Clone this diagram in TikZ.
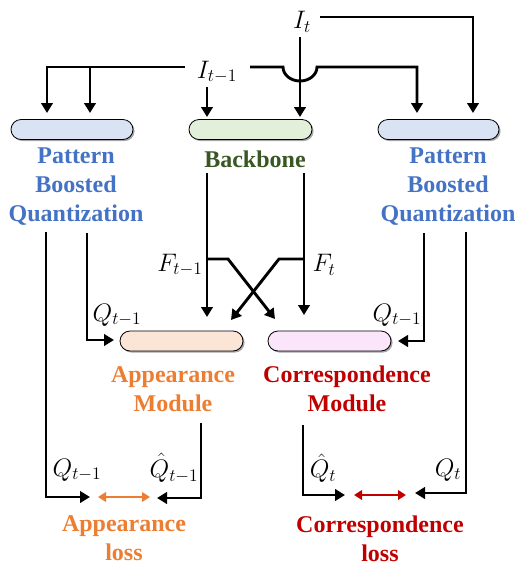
\documentclass[tikz,border=0pt]{standalone}
\usepackage{fontspec}
\setmainfont{Liberation Serif}
\usetikzlibrary{arrows.meta,shadows}
\definecolor{cblue}{HTML}{4472C4}
\definecolor{cgreen}{HTML}{385723}
\definecolor{corange}{HTML}{ED7D31}
\definecolor{cred}{HTML}{C00000}
\definecolor{fblue}{HTML}{DAE3F3}
\definecolor{fgreen}{HTML}{E2F0D9}
\definecolor{forange}{HTML}{FBE5D6}
\definecolor{fpink}{HTML}{FBE5FA}
\newcommand{\mlabtext}[1]{\scalebox{1.22}{\fontsize{20.74}{24}\selectfont$#1$}}
\begin{document}
\begin{tikzpicture}[x=1pt,y=-1pt,
  arr/.style={line width=2.9pt,-{Triangle[length=10pt,width=11.5pt]}},
  darr/.style={line width=2.6pt,{Triangle[length=8pt,width=9.5pt]}-{Triangle[length=8pt,width=9.5pt]}},
  pill/.style={draw=black,line width=0.8pt,rounded corners=10pt,minimum width=122pt,minimum height=20pt,inner sep=0pt,
    drop shadow={shadow xshift=1.6pt,shadow yshift=-1.6pt,opacity=0.35,fill=black}},
  lbl/.style={font=\fontsize{24}{29}\selectfont\bfseries,align=center,inner sep=0pt},
  mlab/.style={inner sep=0pt},
]
\useasboundingbox (0,0) rectangle (517,566);

% boxes
\node[pill,fill=fblue] (pbqL) at (72,129.5) {};
\node[pill,fill=fgreen,minimum width=123pt] (bb) at (250.5,129.5) {};
\node[pill,fill=fblue,minimum width=121pt] (pbqR) at (438.5,129.5) {};
\node[pill,fill=forange,minimum width=123pt] (app) at (181.5,341) {};
\node[pill,fill=fpink,minimum width=123pt] (cor) at (329.5,341) {};

% box labels
\node[lbl,text=cblue] (tL) at (76,187) {Pattern\\Boosted\\Quantization};
\node[lbl,text=cgreen] (tB) at (255,159) {Backbone};
\node[lbl,text=cblue] (tR) at (448,187) {Pattern\\Boosted\\Quantization};
\node[lbl,text=corange] (tA) at (173,389) {Appearance\\Module};
\node[lbl,text=cred] (tC) at (347,389) {Correspondence\\Module};
\node[lbl,text=corange] (lA) at (124,538.5) {Appearance\\loss};
\node[lbl,text=cred] (lC) at (380,538.5) {Correspondence\\loss};

% math labels
\node[mlab] (It) at (302,22) {\mlabtext{I_t}};
\node[mlab] (Itm) at (217,72) {\mlabtext{I_{t-1}}};
\node[mlab] (Ftm) at (180,265) {\mlabtext{F_{t-1}}};
\node[mlab] (Ft) at (324,265) {\mlabtext{F_t}};
\node[mlab] (QL) at (117,315) {\mlabtext{Q_{t-1}}};
\node[mlab] (QR) at (397,315) {\mlabtext{Q_{t-1}}};
\node[mlab] (Q1) at (77,470) {\mlabtext{Q_{t-1}}};
\node[mlab] (Qh1) at (174,468) {\mlabtext{\hat{Q}_{t-1}}};
\node[mlab] (Qh2) at (323,468) {\mlabtext{\hat{Q}_t}};
\node[mlab] (Q2) at (448,470) {\mlabtext{Q_t}};

% I_t connectors
\draw[arr] (320,17) -| (473,113);
\draw[arr] (300,37) -- (300,117);
% I_{t-1} connectors
\draw[arr] (185,67) -| (47,113);
\draw[arr] (90,67) -- (90,113);
\draw[arr] (207,87) -- (207,117);
\draw[arr] (250,67) -- (283,67) arc[start angle=180,end angle=360,x radius=17pt,y radius=14pt] -- (417,67) -- (417,113);

% backbone outputs
\draw[arr] (207,173) -- (207,317);
\draw[arr] (304,173) -- (304,315);
\draw[arr] (207,259) -- (228,259) -- (275,319);
\draw[arr] (304,259) -- (279,259) -- (231,320);

% quantization to modules
\draw[arr] (87,233) |- (114,340);
\draw[arr] (424,233) |- (398,341);

% to losses
\draw[arr] (46,232) |- (90,497);
\draw[arr] (466,232) |- (415,493);
\draw[arr] (201,423) |- (157,498);
\draw[arr] (303,425) |- (345,495);
\draw[darr,corange] (98,497) -- (150,497);
\draw[darr,cred] (354,495) -- (406,495);
\end{tikzpicture}
\end{document}
